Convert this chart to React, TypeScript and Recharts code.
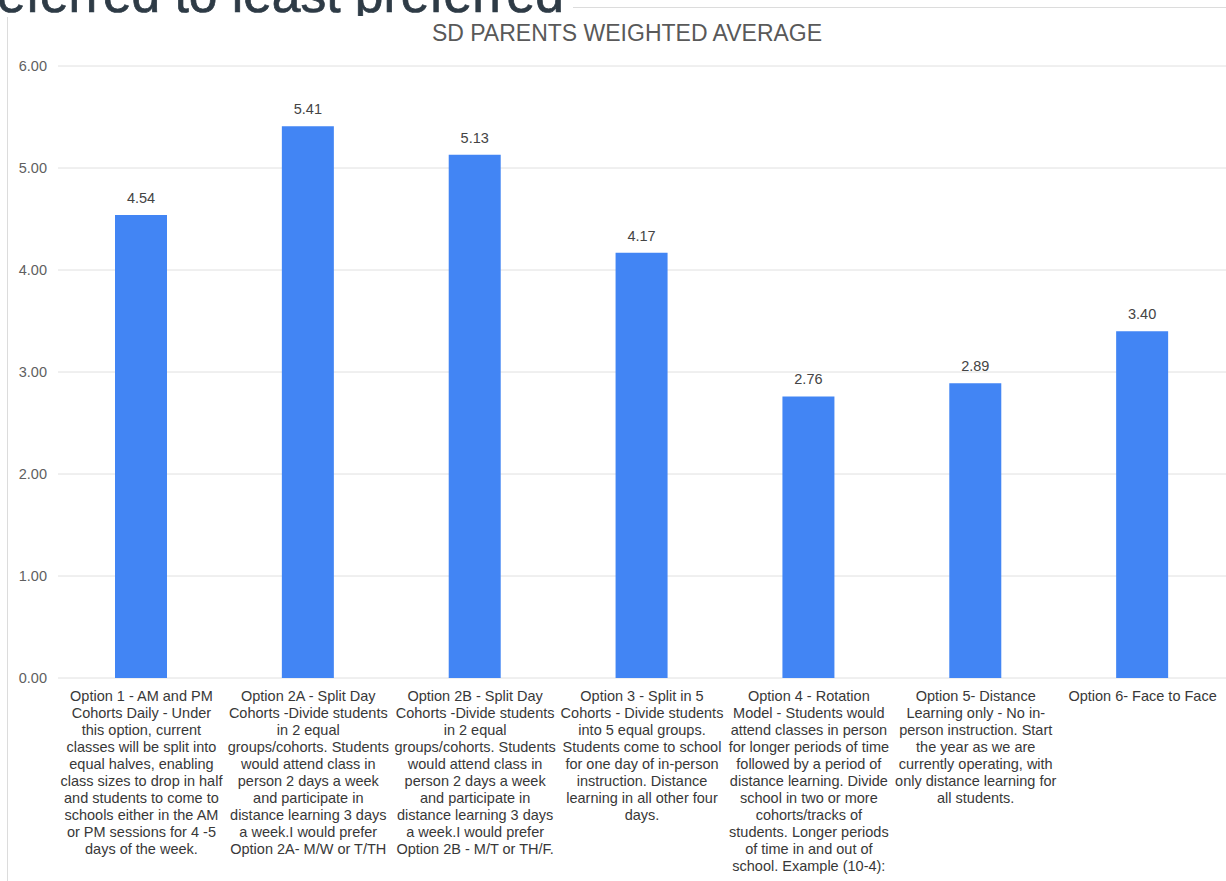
import React from 'react'
import { BarChart, Bar, XAxis, YAxis, CartesianGrid, LabelList } from 'recharts'

const FONT = "'Liberation Sans', Arial, sans-serif"

const categories = ['Option 1', 'Option 2A', 'Option 2B', 'Option 3', 'Option 4', 'Option 5', 'Option 6']
const averages = [4.54, 5.41, 5.13, 4.17, 2.76, 2.89, 3.4]
const yTicks = [0, 1, 2, 3, 4, 5, 6]

// wrapped axis labels, line by line as in the original
const labelLines = [
  ['Option 1 - AM and PM', 'Cohorts Daily - Under', 'this option, current', 'classes will be split into', 'equal halves, enabling', 'class sizes to drop in half', 'and students to come to', 'schools either in the AM', 'or PM sessions for 4 -5', 'days of the week.'],
  ['Option 2A - Split Day', 'Cohorts -Divide students', 'in 2 equal', 'groups/cohorts. Students', 'would attend class in', 'person 2 days a week', 'and participate in', 'distance learning 3 days', 'a week.I would prefer', 'Option 2A- M/W or T/TH'],
  ['Option 2B - Split Day', 'Cohorts -Divide students', 'in 2 equal', 'groups/cohorts. Students', 'would attend class in', 'person 2 days a week', 'and participate in', 'distance learning 3 days', 'a week.I would prefer', 'Option 2B - M/T or TH/F.'],
  ['Option 3 - Split in 5', 'Cohorts - Divide students', 'into 5 equal groups.', 'Students come to school', 'for one day of in-person', 'instruction. Distance', 'learning in all other four', 'days.'],
  ['Option 4 - Rotation', 'Model - Students would', 'attend classes in person', 'for longer periods of time', 'followed by a period of', 'distance learning. Divide', 'school in two or more', 'cohorts/tracks of', 'students. Longer periods', 'of time in and out of', 'school. Example (10-4):'],
  ['Option 5- Distance', 'Learning only - No in-', 'person instruction. Start', 'the year as we are', 'currently operating, with', 'only distance learning for', 'all students.'],
  ['Option 6- Face to Face'],
]

const data = categories.map((name, i) => ({ name, value: averages[i] }))

const XTick = ({ x, y, payload }: any) => {
  const idx = categories.indexOf(payload.value)
  const lines = labelLines[idx] || [payload.value]
  return (
    <text x={x} y={y + 23} textAnchor="middle" fill="#383838" fontSize={14.5} fontFamily={FONT}>
      {lines.map((l, i) => (
        <tspan key={i} x={x} dy={i === 0 ? 0 : 17}>{l}</tspan>
      ))}
    </text>
  )
}

export default function App() {
  return (
    <div style={{ position: 'absolute', left: 0, top: 0, width: 1226, height: 881, background: '#fff', overflow: 'hidden' }}>
      {/* slide heading, only its lower edge shows in the original */}
      <svg width={572} height={16} style={{ position: 'absolute', left: 0, top: 0 }}>
        <text x={-3} y={12} fontSize={51.5} fill="#2e3b46" stroke="#2e3b46" strokeWidth={0.7} fontFamily={FONT}>eferred to least preferred</text>
      </svg>
      <div style={{ position: 'absolute', left: 573, top: 7, width: 653, height: 1, background: '#dcdcdc' }} />
      <div style={{ position: 'absolute', left: 7, top: 17, width: 1, height: 864, background: '#dcdcdc' }} />

      <BarChart width={1226} height={881} data={data} margin={{ top: 66, right: 0, left: 0, bottom: 0 }}>
        <CartesianGrid vertical={false} stroke="#e0e0e0" />
        <XAxis
          dataKey="name"
          height={203}
          axisLine={false}
          tickLine={false}
          tickSize={0}
          tickMargin={0}
          interval={0}
          tick={<XTick />}
        />
        <YAxis
          width={58}
          domain={[0, 6]}
          ticks={yTicks}
          axisLine={false}
          tickLine={false}
          tickSize={0}
          tickMargin={11}
          tickFormatter={(v: number) => v.toFixed(2)}
          tick={{ fill: '#5f5f5f', fontSize: 14.5, fontFamily: FONT }}
        />
        <Bar dataKey="value" fill="#4285f4" barSize={52} isAnimationActive={false}>
          <LabelList
            dataKey="value"
            position="top"
            offset={12}
            formatter={(v: any) => Number(v).toFixed(2)}
            style={{ fill: '#444', fontSize: 14.5, fontFamily: FONT }}
          />
        </Bar>
      </BarChart>

      <div style={{ position: 'absolute', left: 0, top: 22, width: 1254, textAlign: 'center', fontFamily: FONT, fontSize: 23, color: '#595959', lineHeight: '23px' }}>
        SD PARENTS WEIGHTED AVERAGE
      </div>
    </div>
  )
}
